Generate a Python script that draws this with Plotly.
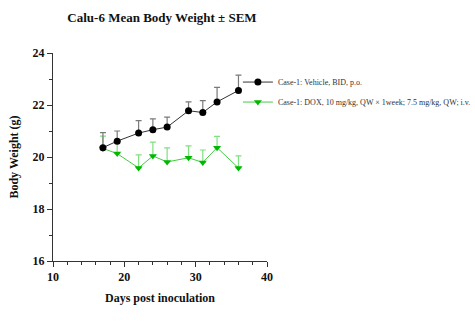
import plotly.graph_objects as go

days = [17, 19, 22, 24, 26, 29, 31, 33, 36]
vehicle_mean = [20.36, 20.61, 20.92, 21.05, 21.15, 21.78, 21.71, 22.12, 22.56]
vehicle_sem = [0.58, 0.39, 0.48, 0.42, 0.38, 0.34, 0.46, 0.56, 0.59]
dox_mean = [20.33, 20.13, 19.58, 20.04, 19.81, 19.97, 19.79, 20.36, 19.58]
dox_sem = [0.47, 0.40, 0.50, 0.53, 0.54, 0.46, 0.48, 0.43, 0.46]

names = ["Case-1: Vehicle, BID, p.o.",
         "Case-1: DOX, 10 mg/kg, QW × 1week; 7.5 mg/kg, QW; i.v."]

serif = "Liberation Serif"

fig = go.Figure()
fig.add_trace(go.Scatter(
    x=days, y=dox_mean, name=names[1], mode="lines+markers",
    line=dict(color="#45cc45", width=1),
    marker=dict(symbol="triangle-down", size=7, color="#00b800"),
    error_y=dict(type="data", array=dox_sem, symmetric=False,
                 arrayminus=[0] * len(days), color="#80e080",
                 thickness=1.2, width=3),
    legendgroup="b", legendrank=2,
))
fig.add_trace(go.Scatter(
    x=days, y=vehicle_mean, name=names[0], mode="lines+markers",
    line=dict(color="#333333", width=1),
    marker=dict(symbol="circle", size=7, color="#000000"),
    error_y=dict(type="data", array=vehicle_sem, symmetric=False,
                 arrayminus=[0] * len(days), color="#7a7a7a",
                 thickness=1.2, width=3),
    legendgroup="a", legendrank=1,
))

fig.update_layout(
    width=475, height=326,
    margin=dict(l=53, r=208, t=53, b=65, autoexpand=False),
    paper_bgcolor="white", plot_bgcolor="white",
    title=dict(text="<b>Calu-6 Mean Body Weight ± SEM</b>",
               x=162 / 475, xanchor="center", y=1 - 17 / 326, yanchor="middle",
               font=dict(family=serif, size=13, color="#111111")),
    legend=dict(x=0.864, xanchor="left", y=0.93, yanchor="top",
                font=dict(family=serif, size=8, color="#333333"),
                traceorder="grouped", tracegroupgap=1,
                bgcolor="rgba(0,0,0,0)"),
    showlegend=True,
)
fig.update_xaxes(
    range=[10, 40], tickvals=[10, 20, 30, 40],
    showline=True, linecolor="#333333", linewidth=1,
    ticks="outside", ticklen=5, tickcolor="#333333",
    minor=dict(dtick=2, tick0=10, ticks="outside", ticklen=3, tickcolor="#333333"),
    showgrid=False, zeroline=False,
    tickfont=dict(family=serif, size=12, color="#111111", weight="bold"),
    title=dict(text="<b>Days post inoculation</b>", standoff=10,
               font=dict(family=serif, size=12, color="#111111")),
)
fig.update_yaxes(
    range=[16, 24], tickvals=[16, 18, 20, 22, 24],
    showline=True, linecolor="#333333", linewidth=1,
    ticks="outside", ticklen=5, tickcolor="#333333",
    minor=dict(dtick=1, tick0=16, ticks="outside", ticklen=3, tickcolor="#333333"),
    showgrid=False, zeroline=False,
    tickfont=dict(family=serif, size=12, color="#111111", weight="bold"),
    title=dict(text="<b>Body Weight (g)</b>", standoff=11,
               font=dict(family=serif, size=12, color="#111111")),
)

fig.write_html("out.html")
